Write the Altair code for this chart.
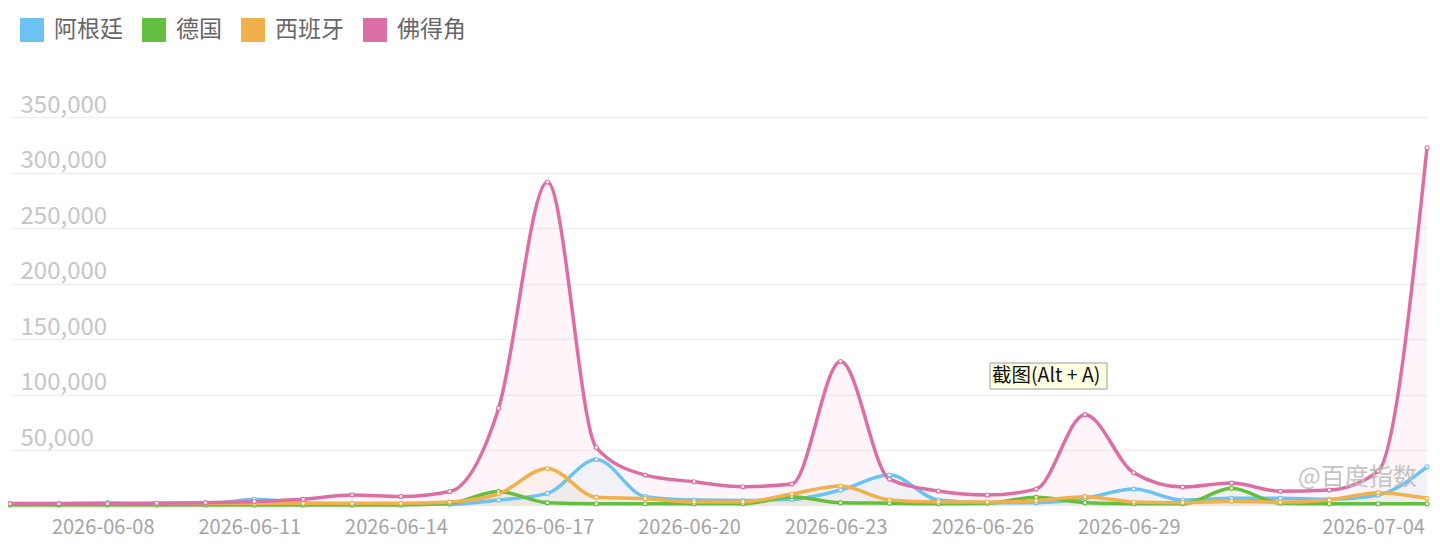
import altair as alt
import pandas as pd

dates = pd.date_range("2026-06-06", "2026-07-05", freq="D").strftime("%Y-%m-%d").tolist()

series_names = ["阿根廷", "德国", "西班牙", "佛得角"]
series_colors = ["#6cc3f2", "#63bf3f", "#f0b04b", "#dc6ea6"]

argentina = [1500, 1800, 3000, 1500, 1500, 6000, 3000, 1500, 1500, 1500,
             5400, 11400, 41900, 8400, 5400, 5000, 6000, 14400, 27800, 5400,
             3000, 3000, 6900, 15200, 5400, 6900, 6900, 6000, 9900, 35300]
germany = [1000, 1000, 1000, 1000, 1000, 1000, 1000, 1000, 1000, 2500,
           13000, 3000, 2000, 2000, 2000, 2000, 8400, 3000, 2500, 2000,
           2500, 7800, 3000, 2000, 2000, 15900, 2500, 2000, 2000, 2000]
spain = [2400, 2400, 2400, 2400, 2400, 2400, 2400, 2400, 2400, 3500,
         11000, 33800, 7800, 6600, 3600, 3600, 10800, 17900, 5400, 3600,
         3600, 4800, 8400, 3600, 3000, 4200, 3300, 5400, 12000, 6900]
capeverde = [2000, 2000, 2000, 2500, 3000, 4000, 6000, 10000, 8500, 13000,
             88000, 291500, 52600, 27800, 21800, 17300, 19700, 130000, 24200, 13500,
             9900, 15200, 82200, 29900, 17000, 20600, 13200, 14350, 31400, 322300]

tick_labels = ["2026-06-08", "2026-06-11", "2026-06-14", "2026-06-17", "2026-06-20",
               "2026-06-23", "2026-06-26", "2026-06-29", "2026-07-04"]
y_ticks = [50000, 100000, 150000, 200000, 250000, 300000, 350000]

rows = []
for k, (name, vals) in enumerate(zip(series_names, [argentina, germany, spain, capeverde])):
    for d, v in zip(dates, vals):
        rows.append({"date": d, "series": name, "value": v, "idx": k})
df = pd.DataFrame(rows)

FONT = "Noto Sans CJK SC"
y_scale = alt.Scale(domain=[0, 350000], nice=False)

x_enc = alt.X("date:O", scale=alt.Scale(type="point", padding=0),
              axis=alt.Axis(values=tick_labels, labelAngle=0, labelOffset=-5,
                            labelFontSize=20, labelColor="#a4a4a4", labelPadding=11,
                            domain=False, ticks=False, tickSize=0, grid=False, title=None,
                            labelFont=FONT))
y_axis = alt.Axis(values=y_ticks, labelExpr="floor(datum.value / 1000) + ',000'",
                  grid=True, gridColor="#efefef",
                  gridWidth=1.5, domain=False, ticks=False, tickSize=0,
                  labelAlign="left", labelPadding=-10, labelBaseline="alphabetic",
                  labelOffset=-5, labelFontSize=24, labelColor="#c6c6c6",
                  labelFont=FONT, labelOverlap=False, labelFlush=False,
                  labelBound=False, title=None)
y_enc = alt.Y("value:Q", stack=None, scale=y_scale, axis=y_axis)
color_scale = alt.Scale(domain=series_names, range=series_colors)

base = alt.Chart(df)

legend_layer = base.mark_square(size=1, opacity=1).encode(
    x=x_enc, y=y_enc,
    color=alt.Color("series:N", scale=color_scale, sort=series_names,
                    legend=alt.Legend(orient="none", legendX=10, legendY=-99,
                                      direction="horizontal", title=None,
                                      symbolType="square", symbolSize=576,
                                      symbolStrokeWidth=0, symbolOpacity=1,
                                      labelFontSize=23, labelColor="#666666",
                                      labelFont=FONT, labelOffset=10,
                                      columnPadding=19, padding=0)),
)

area = base.mark_area(interpolate="monotone", fillOpacity=0.07).encode(
    x=x_enc, y=y_enc,
    fill=alt.Fill("series:N", scale=color_scale, legend=None, sort=series_names),
    order=alt.Order("idx:Q"),
)

line = base.mark_line(interpolate="monotone", strokeWidth=3.5).encode(
    x=x_enc, y=y_enc,
    stroke=alt.Stroke("series:N", scale=color_scale, sort=series_names, legend=None),
    order=alt.Order("idx:Q"),
)

points = base.mark_point(filled=True, size=16, fill="#fffbe8", strokeWidth=1.1, opacity=1).encode(
    x=x_enc, y=y_enc,
    stroke=alt.Stroke("series:N", scale=color_scale, sort=series_names, legend=None),
)

watermark = alt.Chart(pd.DataFrame({"t": ["@百度指数"]})).mark_text(
    font=FONT, fontSize=24, color="#bdbdbd", opacity=0.9, align="left", baseline="middle"
).encode(x=alt.value(1288), y=alt.value(361), text="t:N")

tip_box = alt.Chart(pd.DataFrame({"t": ["截图(Alt + A)"]})).mark_rect(
    fill="#ffffe1", stroke="#9a9a9a", strokeWidth=1
).encode(x=alt.value(980), x2=alt.value(1097), y=alt.value(246), y2=alt.value(272))

tip_text = alt.Chart(pd.DataFrame({"t": ["截图(Alt + A)"]})).mark_text(
    font=FONT, fontSize=19.5, color="#111111", align="left", baseline="middle"
).encode(x=alt.value(982), y=alt.value(259), text="t:N")

chart = alt.layer(legend_layer, area, line, points, watermark, tip_box, tip_text).properties(
    width=1417, height=389,
    padding={"left": 2, "top": 109, "right": 5, "bottom": 40},
    autosize=alt.AutoSizeParams(type="none"),
).configure(font=FONT).configure_view(stroke=None)

chart.save("out.html", embed_options={"renderer": "svg", "actions": False})
